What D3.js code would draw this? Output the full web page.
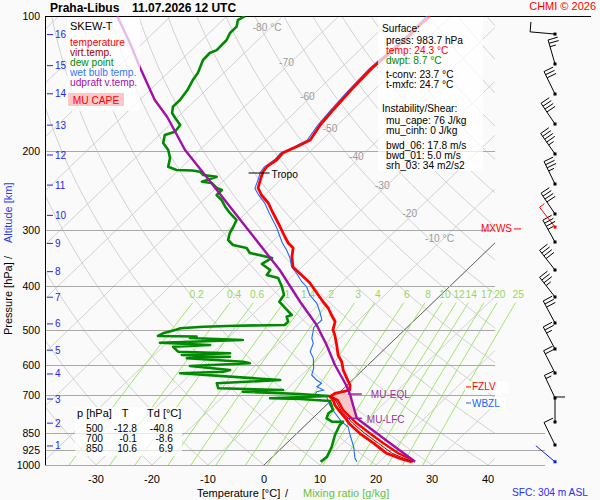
<!DOCTYPE html>
<html>
<head>
<meta charset="utf-8">
<script src="https://cdn.jsdelivr.net/npm/d3@7"></script>
<style>
  body { margin: 0; background: #fafafa; }
  svg { display: block; font-family: "Liberation Sans", Arial, sans-serif; }
</style>
</head>
<body>
<svg id="chart" width="600" height="500"></svg>
<script>
const pressTicks = [100, 200, 300, 400, 500, 600, 700, 850, 925, 1000];
const tempTicks = [-30, -20, -10, 0, 10, 20, 30, 40];
const isoLabelT = [-80, -70, -60, -50, -40, -30, -20, -10];
const isoLabelP = [106, 127, 151, 178, 206, 239, 275, 313];
const mixRatios = [0.2, 0.4, 0.6, 1, 1.4, 2, 3, 4, 6, 8, 10, 12, 14, 17, 20, 25];
const altKm = [1, 2, 3, 4, 5, 6, 7, 8, 9, 10, 11, 12, 13, 14, 15, 16];
const altP = [907, 807, 713, 627, 555, 485, 423, 371, 321, 278, 238, 204, 175, 149, 129, 110];

const tempP = [100, 104.7, 110.2, 119.1, 130.6, 146.2, 161.9, 174.9, 188.9, 195.5, 201.9, 209.3, 216.6, 222.6, 231.9, 241.6, 250.4, 260.9, 274.6, 295.1, 310.6, 320.3, 328.6, 343.6, 362.3, 377.4, 387.2, 393.2, 413.9, 433.5, 447.0, 463.4, 479.6, 500, 513.4, 540.5, 568.9, 588.8, 614.4, 641.1, 663.5, 680.8, 692.3, 704.5, 716.6, 735.1, 754.2, 787, 807.4, 849.9, 894.7, 941.7, 969.7, 983.7];
const tempT = [-53.8, -53.9, -53.8, -54.0, -54.4, -54.1, -53.6, -53.1, -52.1, -53.3, -54.6, -54.4, -54.9, -54.6, -53.6, -52.5, -50.6, -47.9, -45.2, -41.3, -38.6, -36.9, -35.1, -33.7, -31.6, -28.6, -26.7, -25.6, -22.5, -19.7, -17.7, -15.8, -13.9, -12.8, -11.5, -9.3, -7.2, -5.3, -3.5, -1.3, 0.5, 1.4, -0.6, -0.9, 0.3, 1.5, 3.1, 5.9, 7.4, 11.2, 15.6, 19.7, 23.4, 25.8];

// lowest levels: virtual temperature and the second red trace right of it
const bandP = [704.5, 716.6, 754.2, 807.4, 849.9, 894.7, 941.7, 969.7, 983.7];
const virtT = [-0.8, 0.7, 3.5, 8.1, 12.1, 16.4, 20.7, 24.2, 26.0];
const bandRightT = [-0.7, 1.1, 3.9, 8.8, 13.0, 17.3, 21.8, 25.0, 26.1];

const dwptP = [100, 102.1, 105.6, 109.1, 113.1, 119.1, 120.9, 125.3, 129.9, 134.0, 138.9, 146.2, 153.8, 159.2, 164.4, 168.7, 174.9, 181.0, 184.1, 191.8, 198.8, 207.1, 216.6, 220.3, 220.8, 222.2, 226.0, 228.0, 233.9, 235.5, 241.6, 244.1, 250.4, 256.9, 265.9, 274.6, 284.7, 296.6, 304.3, 315.4, 323.6, 328.6, 337.2, 345.9, 356.7, 367.9, 377.4, 383.3, 400.8, 418.2, 432.8, 447.0, 463.4, 467.4, 479.6, 487.7, 489.5, 492.0, 496.0, 500, 509, 516, 517.4, 521.4, 526.8, 534.1, 540.5, 545.2, 559.3, 563.9, 568.9, 573.8, 578.5, 588.8, 593.6, 601.9, 614.4, 619.8, 624.9, 646.7, 657.7, 674.8, 680.8, 686.6, 694.8, 702, 710.3, 712.9, 720.2, 754.2, 767.0, 787.0, 800.8, 801.5, 814.5, 857.4, 910.4, 958.3, 974.7, 983.7];
const dwptT = [-86.8, -87.3, -86.3, -86.3, -85.6, -85.5, -86.2, -86.1, -85.3, -84.6, -84.2, -83.3, -82.8, -82.8, -81.8, -80.3, -78.1, -77.8, -79.0, -77.8, -75.6, -73.8, -72.5, -70.4, -67.5, -65.9, -64.7, -62.0, -63.7, -61.7, -59.9, -58.6, -58.6, -56.8, -54.9, -52.9, -50.4, -49.6, -49.2, -48.2, -46.4, -43.4, -41.9, -37.0, -37.7, -35.1, -34.8, -32.2, -29.9, -28.0, -27.6, -25.4, -22.9, -23.5, -22.3, -22.3, -30.9, -36.5, -40.3, -40.8, -42.5, -42.9, -35.9, -36.8, -27.0, -41.3, -31.9, -38.2, -36.4, -26.8, -35.1, -26.2, -33.6, -22.9, -21.4, -31.6, -23.7, -24.6, -32.0, -12.9, -23.6, -22.4, -10.5, -17.4, -6.8, -1.2, -11.3, -5.8, -0.1, 2.1, 1.9, 2.5, 4.1, 6.1, 6.1, 7.1, 8.7, 9.7, 9.6, 9.5];

const wetbP = [100, 110, 119, 131, 146, 162, 175, 189, 195.5, 202, 209, 217, 223, 232, 242, 250, 261, 275, 295, 311, 320, 332, 345.9, 361.7, 374.1, 390.6, 400.8, 418.2, 436.4, 455.6, 475.4, 492.8, 522.1, 535.7, 559.3, 578.5, 609.1, 630.3, 646.7, 657.7, 669.3, 680.8, 686.6, 698.4, 704.5, 735.1, 767.0, 800.8, 821.7, 857.4, 910.4, 966.2, 983.7];
const wetbT = [-54.3, -54.2, -54.4, -54.8, -54.5, -54.0, -53.5, -52.6, -53.7, -55.0, -54.8, -55.3, -55.0, -54.0, -53.0, -51.2, -48.5, -45.8, -42.0, -39.4, -38.0, -35.9, -33.8, -31.9, -29.8, -27.3, -25.5, -23.4, -20.6, -18.5, -16.6, -16.7, -15.0, -13.8, -12.8, -11.0, -9.1, -8.2, -6.4, -4.9, -5.1, -3.3, -4.2, -3.9, -1.5, 0.6, 3.1, 5.8, 7.9, 9.8, 12.6, 15.0, 16.0];

const parcelP = [100, 116.0, 129.9, 153.8, 167.9, 198.8, 231.9, 302.7, 367.9, 433.5, 487.7, 540.5, 598.8, 663.5, 698.4, 735.1, 787.0, 879.7, 983.7];
const parcelT = [-109.6, -101.8, -96.1, -87.3, -81.9, -72.6, -62.75, -45.8, -33.4, -23.8, -16.6, -11.1, -5.9, -0.2, 2.4, 4.75, 7.9, 17.1, 26.4];

const windP = [109.7, 127.9, 149.2, 174.0, 202.9, 236.7, 276.0, 318.7, 367.9, 422.5, 482.8, 551.6, 623.9, 709.2, 802.1, 902.5];
const windDir = [275, 344, 334, 326, 325, 334, 326, 331, 322, 322, 332, 332, 333, 335, 360, 334];
const windSpd = [10, 25, 30, 40, 45, 35, 40, 35, 40, 35, 30, 25, 20, 15, 10, 10];

const tableP = [500, 700, 850];
const tableT = [-12.8, -0.1, 10.6];
const tableTd = [-40.8, -8.6, 6.9];

const sfcLines = ["press: 983.7 hPa", "temp: 24.3 °C", "dwpt: 8.7 °C", "t-conv: 23.7 °C", "t-mxfc: 24.7 °C"];
const instLines = ["mu_cape: 76 J/kg", "mu_cinh: 0 J/kg", "bwd_06: 17.8 m/s", "bwd_01: 5.0 m/s", "srh_03: 34 m2/s2"];

const tropoP = 223.7, mxwsP = 295.1, fzlvP = 670, wbzlP = 727.7, eqlP = 695, lfcP = 787, sfcP = 983.7;

// ---- geometry ----
const plotL = 45, plotR = 495, plotT = 16, plotB = 465;
const skew = 1.04;
const small = 10.2;
const svg = d3.select("#chart");
const y = d3.scaleLog().domain([1000, 100]).range([plotB, plotT]);
const x = d3.scaleLinear().domain([-40, 40]).range([40, 488]);
const sx = (t, p) => x(t) + skew * (plotB - y(p));

const pts = (P, T) => P.map((p, i) => ({p: p, t: T[i]}));
const line = d3.line().x(d => sx(d.t, d.p)).y(d => y(d.p));

function tAt(P, T, p) {
  for (let i = 0; i < P.length - 1; i++) {
    if ((P[i] - p) * (P[i + 1] - p) <= 0 && P[i] !== P[i + 1]) {
      const f = Math.log(p / P[i]) / Math.log(P[i + 1] / P[i]);
      return T[i] + f * (T[i + 1] - T[i]);
    }
  }
  return T[T.length - 1];
}

svg.append("rect").attr("width", 600).attr("height", 500).attr("fill", "#fafafa");
svg.append("defs").append("clipPath").attr("id", "plot")
  .append("rect").attr("x", plotL).attr("y", plotT).attr("width", plotR - plotL).attr("height", plotB - plotT);

const grid = svg.append("g").attr("clip-path", "url(#plot)");
const logSteps = d3.range(0, 41).map(i => 1000 * Math.pow(0.1, i / 40));

// isotherms
d3.range(-130, 50, 10).forEach(t => {
  grid.append("line")
    .attr("x1", sx(t, 1000)).attr("y1", y(1000))
    .attr("x2", sx(t, 100)).attr("y2", y(100))
    .attr("stroke", "#d2d2d2").attr("stroke-width", 1);
});
// dry adiabats
d3.range(-40, 190, 10).forEach(c => {
  const th = c + 273.15;
  grid.append("path")
    .attr("d", line(logSteps.map(p => ({p: p, t: th * Math.pow(p / 1000, 0.2857) - 273.15}))))
    .attr("fill", "none").attr("stroke", "#d2d2d2").attr("stroke-width", 1);
});

// mixing ratio lines
const tdFromW = (w, p) => {
  const e = w * p / (622 + w);
  const l = Math.log(e / 6.112);
  return 243.5 * l / (17.67 - l);
};
const mixGroup = svg.append("g");
mixRatios.forEach(w => {
  const seg = d3.range(0, 11).map(i => 1000 - i * 56.5).map(p => ({p: p, t: tdFromW(w, p)}));
  mixGroup.append("path").attr("d", line(seg))
    .attr("fill", "none").attr("stroke", "#9fe66e").attr("stroke-width", 1);
  mixGroup.append("text")
    .attr("x", sx(tdFromW(w, 418), 418) - 2).attr("y", y(418))
    .attr("text-anchor", "middle").attr("dominant-baseline", "central")
    .attr("font-size", small).attr("fill", "#96d85a")
    .text(w);
});

// 0 °C isotherm
grid.append("line")
  .attr("x1", sx(0, 1000)).attr("y1", y(1000))
  .attr("x2", sx(0, 100)).attr("y2", y(100))
  .attr("stroke", "#666").attr("stroke-width", 1);

// pressure lines
pressTicks.filter(p => p > 100).forEach(p => {
  svg.append("line")
    .attr("x1", plotL).attr("x2", p >= 850 ? 545 : plotR)
    .attr("y1", Math.round(y(p)) + 0.5).attr("y2", Math.round(y(p)) + 0.5)
    .attr("stroke", "#a8a8a8").attr("stroke-width", 1);
});
svg.append("line").attr("x1", plotL).attr("x2", 591).attr("y1", plotT + 0.5).attr("y2", plotT + 0.5)
  .attr("stroke", "#000").attr("stroke-width", 1);
svg.append("line").attr("x1", plotL + 0.5).attr("x2", plotL + 0.5).attr("y1", plotT).attr("y2", plotB)
  .attr("stroke", "#000").attr("stroke-width", 1);

// isotherm labels
isoLabelT.forEach((t, i) => {
  svg.append("text")
    .attr("x", sx(t, isoLabelP[i]) - 4).attr("y", y(isoLabelP[i]))
    .attr("text-anchor", "middle").attr("dominant-baseline", "central")
    .attr("font-size", small).attr("fill", "#9a9a9a")
    .text(t + (t === -80 || t === -10 ? " °C" : ""));
});

// ---- profiles ----
const prof = svg.append("g").attr("clip-path", "url(#plot)");

// MU CAPE area between parcel and temperature
const parcelSeg = [{p: eqlP, t: tAt(parcelP, parcelT, eqlP)}]
  .concat(pts(parcelP, parcelT).filter(d => d.p > eqlP && d.p < lfcP))
  .concat([{p: lfcP, t: tAt(parcelP, parcelT, lfcP)}]);
const tempSeg = [{p: lfcP, t: tAt(tempP, tempT, lfcP)}]
  .concat(pts(tempP, tempT).filter(d => d.p > eqlP && d.p < lfcP).reverse())
  .concat([{p: eqlP, t: tAt(tempP, tempT, eqlP)}]);
prof.append("path").attr("d", line(parcelSeg.concat(tempSeg)) + "Z")
  .attr("fill", "#f8c8c8").attr("stroke", "none");

prof.append("path").attr("d", line(pts(wetbP, wetbT)))
  .attr("fill", "none").attr("stroke", "#1f6bff").attr("stroke-width", 1.1);

prof.append("path").attr("d", line(pts(dwptP, dwptT)))
  .attr("fill", "none").attr("stroke", "#008a00").attr("stroke-width", 2.6)
  .attr("stroke-linejoin", "round");

prof.append("path").attr("d", line(pts(tempP, tempT)))
  .attr("fill", "none").attr("stroke", "#ff0000").attr("stroke-width", 2.8)
  .attr("stroke-linejoin", "round");
prof.append("path").attr("d", line(pts(bandP, bandRightT)))
  .attr("fill", "none").attr("stroke", "#ff0000").attr("stroke-width", 2.4)
  .attr("stroke-linejoin", "round");
prof.append("path").attr("d", line(pts(bandP, virtT)))
  .attr("fill", "none").attr("stroke", "#a00000").attr("stroke-width", 1);

prof.append("path").attr("d", line(pts(parcelP, parcelT)))
  .attr("fill", "none").attr("stroke", "#a010a8").attr("stroke-width", 2.4)
  .attr("stroke-linejoin", "round");

// ---- semi transparent text boxes ----
const boxes = [[67, 17, 73, 94], [378, 17, 105, 154], [75, 407, 107, 49], [465, 381, 44, 12], [465, 397, 41, 12]];
boxes.forEach(b => {
  svg.append("rect").attr("x", b[0]).attr("y", b[1]).attr("width", b[2]).attr("height", b[3])
    .attr("fill", "#fff").attr("opacity", 0.72);
});

// ---- level markers ----
const tropoX = sx(tAt(tempP, tempT, tropoP), tropoP);
svg.append("line").attr("x1", tropoX - 14).attr("x2", tropoX + 7)
  .attr("y1", y(tropoP)).attr("y2", y(tropoP)).attr("stroke", "#000");
svg.append("text").attr("x", tropoX + 9).attr("y", y(tropoP) + 1)
  .attr("dominant-baseline", "central").attr("font-size", small).text("Tropo");

const eqlX = sx(tAt(parcelP, parcelT, eqlP), eqlP);
svg.append("line").attr("x1", eqlX - 2).attr("x2", eqlX + 12)
  .attr("y1", y(eqlP)).attr("y2", y(eqlP)).attr("stroke", "#a020a0").attr("stroke-width", 1.5);
svg.append("text").attr("x", eqlX + 21).attr("y", y(eqlP))
  .attr("dominant-baseline", "central").attr("font-size", 10).attr("fill", "#a030a0").text("MU-EQL");
const lfcX = sx(tAt(parcelP, parcelT, lfcP), lfcP);
svg.append("line").attr("x1", lfcX - 10).attr("x2", lfcX + 5)
  .attr("y1", y(lfcP)).attr("y2", y(lfcP)).attr("stroke", "#a020a0").attr("stroke-width", 1.5);
svg.append("text").attr("x", lfcX + 10).attr("y", y(lfcP) + 1.5)
  .attr("dominant-baseline", "central").attr("font-size", 10).attr("fill", "#a030a0").text("MU-LFC");

svg.append("line").attr("x1", 466).attr("x2", 471).attr("y1", y(fzlvP)).attr("y2", y(fzlvP)).attr("stroke", "#f00");
svg.append("text").attr("x", 472).attr("y", y(fzlvP)).attr("dominant-baseline", "central")
  .attr("font-size", 10).attr("fill", "#f00").text("FZLV");
svg.append("line").attr("x1", 466).attr("x2", 471).attr("y1", y(wbzlP)).attr("y2", y(wbzlP)).attr("stroke", "#2060ff");
svg.append("text").attr("x", 472).attr("y", y(wbzlP)).attr("dominant-baseline", "central")
  .attr("font-size", 10).attr("fill", "#2060ff").text("WBZL");
svg.append("text").attr("x", 512).attr("y", y(298)).attr("text-anchor", "end").attr("dominant-baseline", "central")
  .attr("font-size", 10).attr("fill", "#f00").text("MXWS");
svg.append("line").attr("x1", 514).attr("x2", 521).attr("y1", y(298)).attr("y2", y(298)).attr("stroke", "#f00");

// ---- wind barbs ----
const barbX = 555;
function barb(p, dir, spd, color) {
  const a = dir * Math.PI / 180;
  const ux = Math.sin(a), uy = -Math.cos(a);
  const nx = -uy, ny = ux;
  const py = y(p), L = 25;
  const tx = barbX + L * ux, ty = py + L * uy;
  const g = svg.append("g").attr("stroke", color).attr("stroke-width", 1).attr("fill", "none");
  g.append("line").attr("x1", barbX).attr("y1", py).attr("x2", tx).attr("y2", ty);
  let pos = 0;
  for (let i = 0; i < Math.floor(spd / 10); i++) {
    const bx = tx - pos * ux, by = ty - pos * uy;
    g.append("line").attr("x1", bx).attr("y1", by).attr("x2", bx + 10 * nx).attr("y2", by + 10 * ny);
    pos += 3.5;
  }
  if (spd % 10 >= 5) {
    const bx = tx - pos * ux, by = ty - pos * uy;
    g.append("line").attr("x1", bx).attr("y1", by).attr("x2", bx + 6 * nx).attr("y2", by + 6 * ny);
  }
  svg.append("rect").attr("x", barbX - 1.5).attr("y", py - 1.5).attr("width", 3).attr("height", 3).attr("fill", color);
}
barb(mxwsP, 322, 5, "#f00");
windP.forEach((p, i) => barb(p, windDir[i], windSpd[i], "#000"));
barb(sfcP, 310, 3, "#0020ff");

// ---- axes text ----
pressTicks.forEach(p => {
  svg.append("text").attr("x", 40).attr("y", y(p)).attr("text-anchor", "end")
    .attr("dominant-baseline", "central").attr("font-size", 10.5).text(p);
});
altKm.forEach((k, i) => {
  const yy = y(altP[i]);
  svg.append("line").attr("x1", 47).attr("x2", 53).attr("y1", yy).attr("y2", yy).attr("stroke", "#2424f0");
  svg.append("text").attr("x", 55).attr("y", yy).attr("dominant-baseline", "central")
    .attr("font-size", 10).attr("fill", "#2424f0").text(k);
});
tempTicks.forEach(t => {
  svg.append("text").attr("x", x(t)).attr("y", 479).attr("text-anchor", "middle")
    .attr("dominant-baseline", "central").attr("font-size", 11).text(t);
});

const xt = svg.append("text").attr("y", 497).attr("font-size", 11);
xt.append("tspan").attr("x", 197).text("Temperature [°C]");
xt.append("tspan").attr("x", 285).text("/");
xt.append("tspan").attr("x", 303).attr("fill", "#66c23a").text("Mixing ratio [g/kg]");

const yt = svg.append("text").attr("transform", "translate(12,0) rotate(-90)").attr("font-size", 11);
yt.append("tspan").attr("x", -335).text("Pressure [hPa]");
yt.append("tspan").attr("x", -259).text("/");
yt.append("tspan").attr("x", -243).attr("fill", "#2a3cf0").text("Altitude [km]");

// ---- title ----
svg.append("text").attr("x", 50).attr("y", 12).attr("font-size", 12).attr("font-weight", "bold").text("Praha-Libus");
svg.append("text").attr("x", 132).attr("y", 12).attr("font-size", 12).attr("font-weight", "bold").text("11.07.2026 12 UTC");
svg.append("text").attr("x", 596).attr("y", 10).attr("text-anchor", "end").attr("font-size", 11)
  .attr("fill", "#f00").text("CHMI © 2026");
svg.append("text").attr("x", 512).attr("y", 492).attr("dominant-baseline", "central")
  .attr("font-size", small).attr("fill", "#2b2bff").text("SFC: 304 m ASL");

// ---- legend ----
const legend = [["temperature", "#ff0000"], ["virt.temp.", "#a00000"], ["dew point", "#008a00"],
  ["wet bulb temp.", "#3377ff"], ["udpraft v.temp.", "#a010a8"]];
svg.append("text").attr("x", 70).attr("y", 26).attr("dominant-baseline", "central").attr("font-size", 11).text("SKEW-T");
legend.forEach((d, i) => {
  svg.append("text").attr("x", 70).attr("y", 42 + i * 10).attr("dominant-baseline", "central")
    .attr("font-size", small).attr("fill", d[1]).text(d[0]);
});
svg.append("rect").attr("x", 68).attr("y", 93).attr("width", 56).attr("height", 13).attr("fill", "#fbc8c8");
svg.append("text").attr("x", 96).attr("y", 100).attr("text-anchor", "middle").attr("dominant-baseline", "central")
  .attr("font-size", small).attr("fill", "#ff0000").text("MU CAPE");

// ---- surface / instability panel ----
svg.append("text").attr("x", 382).attr("y", 28).attr("dominant-baseline", "central").attr("font-size", small).text("Surface:");
const sfcY = [40, 50, 60, 74, 84];
const sfcCol = ["#000", "#ff0000", "#008a00", "#000", "#000"];
sfcLines.forEach((s, i) => {
  svg.append("text").attr("x", 386).attr("y", sfcY[i]).attr("dominant-baseline", "central")
    .attr("font-size", small).attr("fill", sfcCol[i]).text(s);
});
svg.append("text").attr("x", 382).attr("y", 108).attr("dominant-baseline", "central").attr("font-size", small).text("Instability/Shear:");
const instY = [120, 130, 145, 155, 165];
instLines.forEach((s, i) => {
  svg.append("text").attr("x", 386).attr("y", instY[i]).attr("dominant-baseline", "central")
    .attr("font-size", small).text(s);
});

// ---- table ----
svg.append("text").attr("x", 77).attr("y", 413).attr("dominant-baseline", "central").attr("font-size", 11).text("p [hPa]");
svg.append("text").attr("x", 125).attr("y", 413).attr("text-anchor", "middle").attr("dominant-baseline", "central").attr("font-size", 11).text("T");
svg.append("text").attr("x", 147).attr("y", 413).attr("dominant-baseline", "central").attr("font-size", 11).text("Td [°C]");
tableP.forEach((p, i) => {
  const yy = 428 + i * 10;
  svg.append("text").attr("x", 103).attr("y", yy).attr("text-anchor", "end").attr("dominant-baseline", "central").attr("font-size", small).text(p);
  svg.append("text").attr("x", 137).attr("y", yy).attr("text-anchor", "end").attr("dominant-baseline", "central").attr("font-size", small).text(tableT[i].toFixed(1));
  svg.append("text").attr("x", 173).attr("y", yy).attr("text-anchor", "end").attr("dominant-baseline", "central").attr("font-size", small).text(tableTd[i].toFixed(1));
});
</script>
</body>
</html>
